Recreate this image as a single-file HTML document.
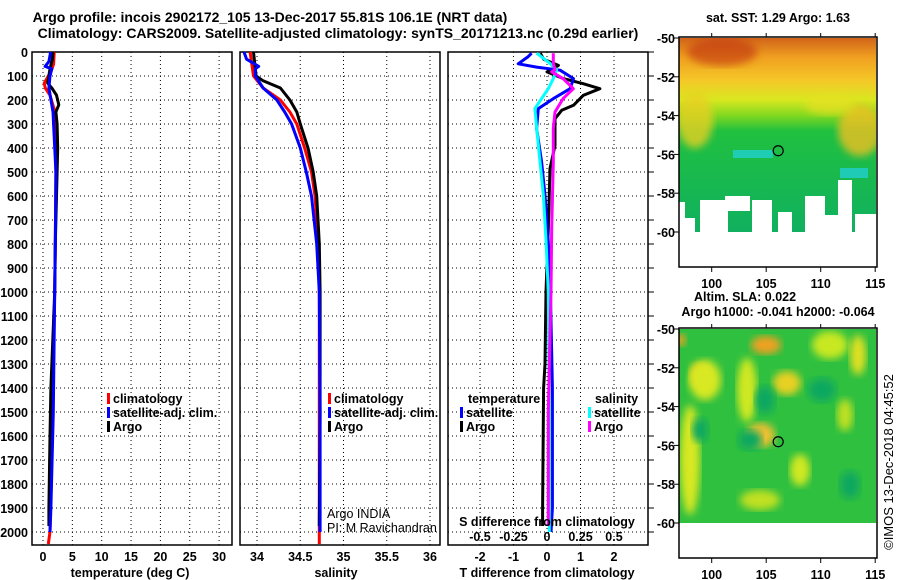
<!DOCTYPE html>
<html><head><meta charset="utf-8">
<style>
html,body{margin:0;padding:0;background:#fff;}
svg{display:block;font-family:"Liberation Sans",Arial,sans-serif;}
.t{font-weight:bold;font-size:12.5px;fill:#000;}
.ttl{font-weight:bold;font-size:14px;fill:#000;}
.lg{font-weight:bold;font-size:12.5px;fill:#000;}
.grid{stroke:#000;stroke-width:1;stroke-dasharray:1,3;}
</style></head>
<body>
<svg id="chart" width="900" height="580" viewBox="0 0 900 580" xmlns="http://www.w3.org/2000/svg">
<defs>
<linearGradient id="sstGrad" x1="0" y1="0" x2="0" y2="1">
<stop offset="0" stop-color="#d2641a"/>
<stop offset="0.1" stop-color="#f0a020"/>
<stop offset="0.22" stop-color="#f5c828"/>
<stop offset="0.32" stop-color="#d8e820"/>
<stop offset="0.4" stop-color="#80d820"/>
<stop offset="0.48" stop-color="#20c040"/>
<stop offset="1" stop-color="#10b060"/>
</linearGradient>
<filter id="blur4"><feGaussianBlur stdDeviation="4"/></filter>
<clipPath id="map2clip"><rect x="679" y="329" width="197" height="194"/></clipPath>
<clipPath id="map1clip"><rect x="679" y="38" width="197" height="194"/></clipPath>
</defs>
<text class="ttl" x="270" y="22" text-anchor="middle">Argo profile: incois 2902172_105 13-Dec-2017 55.81S 106.1E (NRT data)</text>
<text class="ttl" x="338" y="38" text-anchor="middle">Climatology: CARS2009. Satellite-adjusted climatology: synTS_20171213.nc (0.29d earlier)</text>
<g id="panels"></g>
<g id="maps"></g>
</svg>
<script>
// depth axis
const depthTicks = [0,100,200,300,400,500,600,700,800,900,1000,1100,1200,1300,1400,1500,1600,1700,1800,1900,2000];
// temperature panel data
const tDepth = [0,30,60,70,100,130,150,180,220,250,300,400,500,800,1000,1400,1600,1900,1975];
const tArgo  = [1.7,1.6,1.3,1.2,1.0,0.8,1.5,2.3,2.7,2.2,2.4,2.5,2.4,2.1,2.0,1.35,1.2,1.0,1.0];
const tClimDepth = [0,50,80,100,130,150,180,240,300,500,800,1000,1400,1800,2000,2050];
const tClim = [1.9,1.8,1.4,0.9,0.2,0.4,1.2,1.9,2.1,2.2,2.1,2.0,1.7,1.4,1.2,0.9];
const tSatDepth = [0,40,60,70,100,150,250,500,800,1000,1500,1900,2000];
const tSat = [1.3,1.0,0.35,1.5,1.2,1.0,1.7,2.2,2.1,2.0,1.75,1.35,1.2];
// salinity panel data
const sArgoDepth = [0,100,120,150,200,250,300,400,500,600,800,1000,1500,1975];
const sArgo = [33.96,33.99,34.07,34.27,34.38,34.46,34.50,34.59,34.65,34.69,34.72,34.73,34.73,34.72];
const sClimDepth = [0,100,150,200,250,300,400,500,600,800,1000,1500,2050];
const sClim = [33.92,33.96,34.07,34.27,34.38,34.46,34.55,34.63,34.67,34.71,34.72,34.72,34.72];
const sSatDepth = [0,30,60,70,100,150,200,250,300,400,500,600,800,1000,1500,2000];
const sSat = [33.85,33.88,34.02,33.98,33.98,34.07,34.23,34.32,34.40,34.50,34.57,34.63,34.69,34.72,34.73,34.73];
// difference panel data
const dTArgoDepth = [5,30,56,83,111,132,153,181,222,243,278,389,486,736,1000,1300,1400,1900,1975];
const dTArgo = [-0.2,-0.1,0.34,0.0,0.49,1.08,1.58,1.08,0.79,0.44,0.24,0.24,0.09,0.04,-0.03,-0.06,-0.1,-0.13,-0.13];
const dTSatDepth = [5,19,49,63,76,111,153,194,236,319,458,597,792,1000,1400,1900,2000];
const dTSat = [-0.46,-0.56,-0.86,-0.31,0.39,0.79,0.69,0.19,-0.26,-0.31,-0.16,-0.06,0.04,0.1,0.16,0.16,0.12];
const dSSatDepth = [5,47,74,111,153,194,236,319,458,597,792,1000,1500,2000];
const dSSat = [-0.077,0.022,0.072,0.047,0.01,-0.04,-0.09,-0.077,-0.052,-0.027,-0.007,0.01,0.017,0.017];
const dSArgoDepth = [5,47,74,83,111,153,194,250,319,458,736,1000,1500,1975];
const dSArgo = [0.047,0.047,0.06,0.035,0.12,0.196,0.12,0.06,0.047,0.047,0.035,0.03,0.01,0.01];
// tick labels
const tempTicks = [0,5,10,15,20,25,30];
const salTicks = [34,34.5,35,35.5,36];
const tdTicks = [-2,-1,0,1,2];
const sdTicks = [-0.5,-0.25,0,0.25,0.5];
const latTicks = [-50,-52,-54,-56,-58,-60];
const lonTicks = [100,105,110,115];
const argoLon = 106.1, argoLat = -55.81;

const NS="http://www.w3.org/2000/svg";
const gP=document.getElementById('panels');
const gM=document.getElementById('maps');
function mk(tag,attrs,parent){const e=document.createElementNS(NS,tag);for(const k in attrs)e.setAttribute(k,attrs[k]);(parent||gP).appendChild(e);return e;}
const TOP=52,BOT=545;
const yD=d=>TOP+d*0.24;
const xT=v=>43+v*5.87;
const xS=v=>257+(v-34)*86.5;
const xTd=v=>547+v*33.5;
const xSd=v=>547+v*134;

function frame(x0,x1,name,vgrid,fx){
  const g=mk('g',{});
  
  
  depthTicks.forEach(d=>{mk('line',{x1:x0,x2:x1,y1:yD(d),y2:yD(d),class:'grid'},g);});
  vgrid.forEach(v=>{mk('line',{x1:fx(v),x2:fx(v),y1:TOP,y2:BOT,class:'grid'},g);});
  mk('rect',{x:x0,y:TOP,width:x1-x0,height:BOT-TOP,fill:'none',stroke:'#000','stroke-width':1.5},g);
  return g;
}
function line(xs,ds,fx,color,name,g){
  let p='';
  for(let i=0;i<xs.length;i++){p+=(i?'L':'M')+fx(xs[i]).toFixed(1)+','+yD(ds[i]).toFixed(1);}
  const e=mk('path',{d:p,fill:'none',stroke:color,'stroke-width':3,'stroke-linejoin':'round'},g);
  
  
}
function txt(x,y,s,cls,anchor,parent,name){
  const e=mk('text',{x:x,y:y,class:cls,'text-anchor':anchor||'start'},parent);
  e.textContent=s;
  
  
  return e;
}
// Panel 1
const p1=frame(32,232,'temperature-panel',[0,5,10,15,20,25,30],xT);
depthTicks.forEach(d=>txt(28,yD(d)+5,String(d),'t','end',gP,'depth-tick-label'));
tempTicks.forEach(v=>txt(xT(v),561,String(v),'t','middle',gP,'temperature-tick-label'));
txt(130,577,'temperature (deg C)','t','middle',gP,'temperature-axis-title');
line(tClim,tClimDepth,xT,'#ff0000','temp-climatology-line',p1);
line(tArgo,tDepth,xT,'#000000','temp-argo-line',p1);
line(tSat,tSatDepth,xT,'#0000ff','temp-satellite-line',p1);
function legend(x,y,color,label,name){
  const r=mk('rect',{x:x,y:y-10,width:3,height:11,fill:color});
  
  
  txt(x+6,y,label,'lg','start',gP,name);
}
legend(107,403,'#ff0000','climatology','legend-climatology');
legend(107,417,'#0000ff','satellite-adj. clim.','legend-satellite-adj');
legend(107,431,'#000000','Argo','legend-argo');
// Panel 2
const p2=frame(240,440,'salinity-panel',[34,34.5,35,35.5,36],xS);
salTicks.forEach(v=>txt(xS(v),561,String(v),'t','middle',gP,'salinity-tick-label'));
txt(336,577,'salinity','t','middle',gP,'salinity-axis-title');
line(sClim,sClimDepth,xS,'#ff0000','sal-climatology-line',p2);
line(sArgo,sArgoDepth,xS,'#000000','sal-argo-line',p2);
line(sSat,sSatDepth,xS,'#0000ff','sal-satellite-line',p2);
legend(328,403,'#ff0000','climatology','legend2-climatology');
legend(328,417,'#0000ff','satellite-adj. clim.','legend2-satellite-adj');
legend(328,431,'#000000','Argo','legend2-argo');
const ai=txt(327,518,'Argo INDIA','','start',gP,'argo-india-credit');ai.setAttribute('style','font-size:12.5px');
const pi=txt(327,532,'PI: M Ravichandran','','start',gP,'pi-credit');pi.setAttribute('style','font-size:12.5px');
// Panel 3
const p3=frame(448,648,'difference-panel',[-2,-1,0,1,2],xTd);
depthTicks.forEach(d=>mk('line',{x1:648,x2:654,y1:yD(d),y2:yD(d),stroke:'#000'}));
tdTicks.forEach(v=>txt(xTd(v),561,String(v),'t','middle',gP,'tdiff-tick-label'));
txt(547,577,'T difference from climatology','t','middle',gP,'tdiff-axis-title');
txt(547,526,'S difference from climatology','t','middle',gP,'sdiff-axis-title');
sdTicks.forEach(v=>txt(xSd(v),541,String(v),'t','middle',gP,'sdiff-tick-label'));
line(dTArgo,dTArgoDepth,xTd,'#000000','tdiff-argo-line',p3);
line(dTSat,dTSatDepth,xTd,'#0000ff','tdiff-satellite-line',p3);
line(dSSat,dSSatDepth,xSd,'#00ffff','sdiff-satellite-line',p3);
line(dSArgo,dSArgoDepth,xSd,'#ff00ff','sdiff-argo-line',p3);
txt(468,403,'temperature','lg','start',gP,'legend3-temperature-heading');
legend(460,417,'#0000ff','satellite','legend3-temp-satellite');
legend(460,431,'#000000','Argo','legend3-temp-argo');
txt(595,403,'salinity','lg','start',gP,'legend3-salinity-heading');
legend(588,417,'#00ffff','satellite','legend3-sal-satellite');
legend(588,431,'#ff00ff','Argo','legend3-sal-argo');

// Maps
const MX0=679,MX1=877;
const xL=v=>679+(v-97)*10.9;
function mapAxes(top,name){
  const yL=v=>top+(-50-v)*19.4;
  const g=mk('g',{},gM);
  
  
  mk('rect',{x:MX0,y:top-1,width:MX1-MX0,height:230,fill:'none',stroke:'#000','stroke-width':1.5},g);
  latTicks.forEach(v=>{mk('line',{x1:MX0-5,x2:MX0,y1:yL(v),y2:yL(v),stroke:'#000'},g);txt(675,yL(v)+5,String(v),'t','end',g,'lat-tick-label');});
  lonTicks.forEach(v=>{mk('line',{x1:xL(v),x2:xL(v),y1:top+229,y2:top+234,stroke:'#000'},g);mk('line',{x1:xL(v),x2:xL(v),y1:top-1,y2:top-5,stroke:'#000'},g);txt(xL(v),top+250,String(v),'t','middle',g,'lon-tick-label');});
  const c=mk('circle',{cx:xL(argoLon),cy:yL(argoLat),r:5,fill:'none',stroke:'#000','stroke-width':1.2},g);
  
  
  return g;
}
// SST map image
const s1=mk('g',{'clip-path':'url(#map1clip)'},gM);


mk('rect',{x:679,y:38,width:197,height:194,fill:'url(#sstGrad)'},s1);
mk('ellipse',{cx:722,cy:52,rx:35,ry:14,fill:'#c03010',opacity:0.6,filter:'url(#blur4)'},s1);
mk('ellipse',{cx:860,cy:130,rx:22,ry:26,fill:'#f0c020',opacity:0.8,filter:'url(#blur4)'},s1);
mk('ellipse',{cx:695,cy:120,rx:18,ry:28,fill:'#e8d020',opacity:0.8,filter:'url(#blur4)'},s1);
mk('ellipse',{cx:830,cy:105,rx:25,ry:10,fill:'#e8e020',opacity:0.7,filter:'url(#blur4)'},s1);
mk('rect',{x:733,y:150,width:40,height:8,fill:'#20d0d0',opacity:0.8},s1);
mk('rect',{x:840,y:168,width:28,height:10,fill:'#20d0d0',opacity:0.8},s1);
[[700,200,28,32],[725,196,25,15],[752,200,20,32],[778,212,14,20],[805,196,20,36],[823,215,18,17],[838,180,14,52],[855,214,22,18],[679,218,16,14]].forEach(r=>{mk('rect',{x:r[0],y:r[1],width:r[2],height:r[3],fill:'#fff'},s1);});
mk('rect',{x:679,y:202,width:6,height:30,fill:'#fff'},s1);
mapAxes(38,'sst-map-axes');
txt(778,22,'sat. SST: 1.29 Argo: 1.63','t','middle',gM,'sst-map-title');
// SLA map image
const s2=mk('g',{'clip-path':'url(#map2clip)'},gM);


mk('rect',{x:679,y:329,width:197,height:194,fill:'#30c040'},s2);
[[766,345,15,9,'#f0a020'],[700,375,10,12,'#f0c820'],[705,380,16,20,'#d8e820'],[761,435,14,12,'#f0c030'],[787,383,14,12,'#e8d020'],[747,390,10,32,'#d0e820'],[690,460,10,55,'#d8e820'],[830,345,18,14,'#c8e820'],[858,355,8,20,'#e0e020'],[800,470,10,16,'#d0e820'],[760,500,20,10,'#c0e020'],[680,340,6,6,'#f0a020'],[845,415,8,16,'#c0e020']].forEach(e=>{
  mk('ellipse',{cx:e[0],cy:e[1],rx:e[2],ry:e[3],fill:e[4],filter:'url(#blur4)'},s2);});
[[765,400,10,14],[822,390,14,12],[750,440,12,10],[850,485,10,14],[700,430,8,12]].forEach(e=>{
  mk('ellipse',{cx:e[0],cy:e[1],rx:e[2],ry:e[3],fill:'#10a860',filter:'url(#blur4)'},s2);});
mapAxes(329,'sla-map-axes');
txt(745,301,'Altim. SLA: 0.022','t','middle',gM,'sla-map-title');
txt(778,316,'Argo h1000: -0.041 h2000: -0.064','t','middle',gM,'argo-height-title');
const cr=txt(0,0,'©IMOS 13-Dec-2018 04:45:52','','middle',gM,'imos-credit');
cr.setAttribute('transform','translate(893,462) rotate(-90)');
cr.setAttribute('style','font-size:13px');
</script>
</body></html>
